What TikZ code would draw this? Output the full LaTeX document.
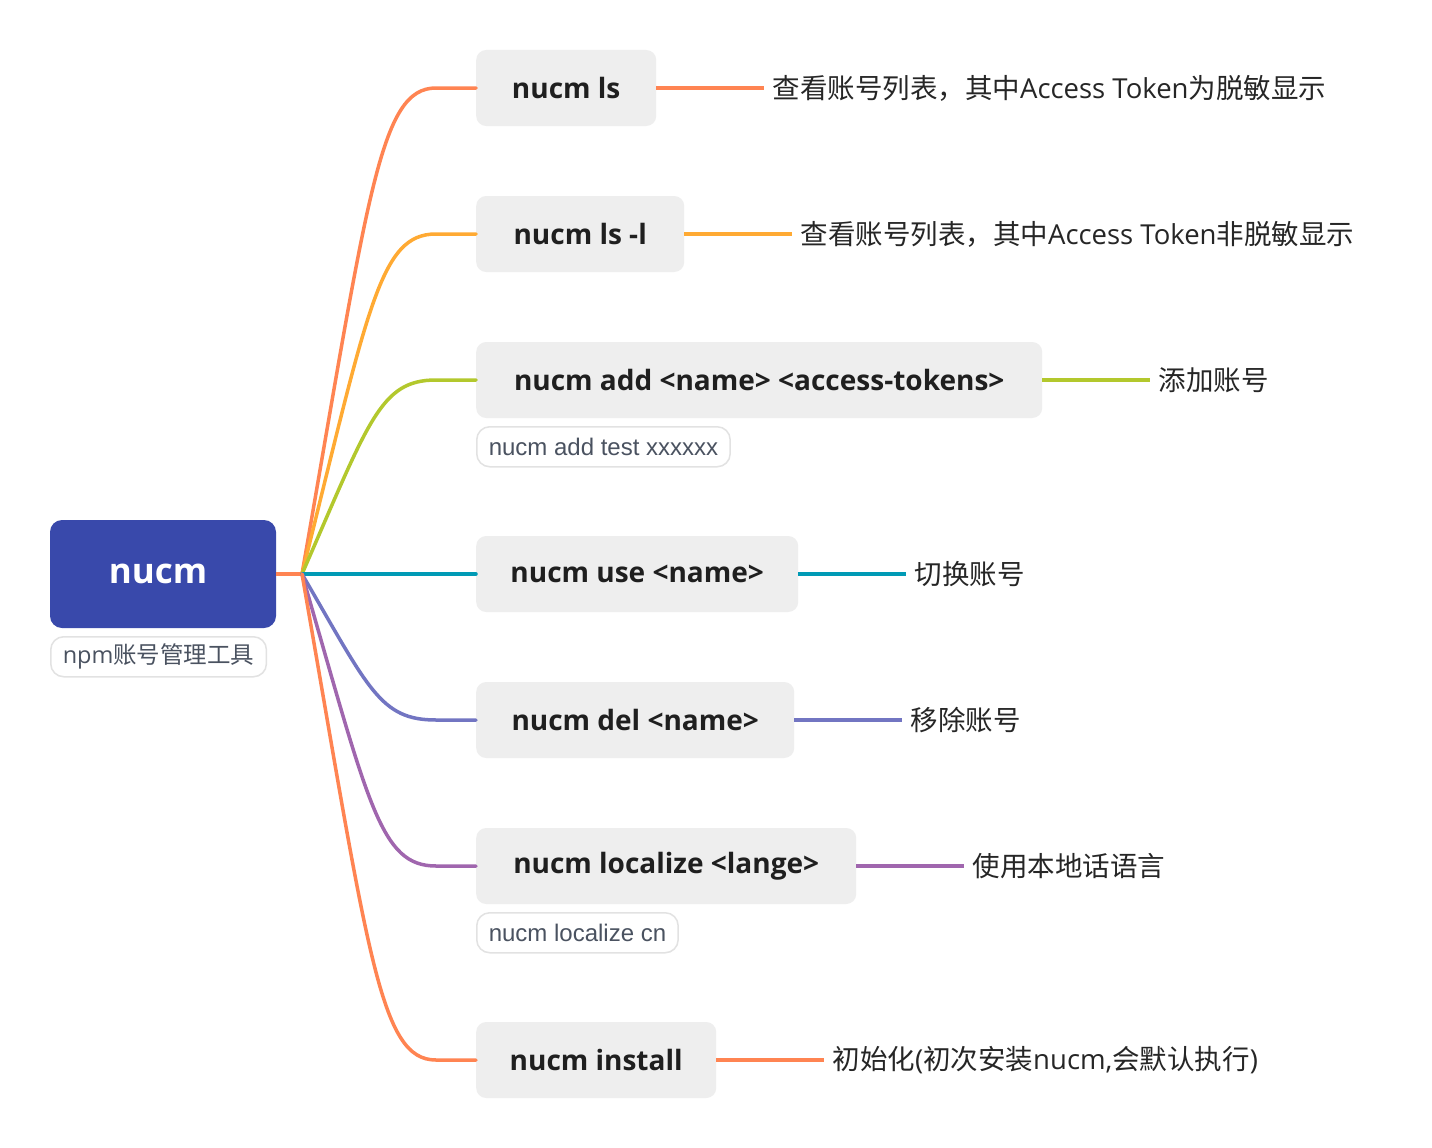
\documentclass[tikz,border=0pt]{standalone}
\usepackage{fontspec}
\setmainfont{Open Sans}
\newfontfamily\cjk{Noto Sans CJK SC}
\newfontfamily\arialf{Liberation Sans}
\definecolor{rootblue}{HTML}{3949AB}
\definecolor{boxgray}{HTML}{EEEEEE}
\definecolor{tagborder}{HTML}{E2E2E2}
\definecolor{taggray}{HTML}{4A5260}
\definecolor{cOrange}{HTML}{FF8452}
\definecolor{cYellow}{HTML}{FFAA33}
\definecolor{cGreen}{HTML}{B3C82D}
\definecolor{cTeal}{HTML}{009AB5}
\definecolor{cBlue}{HTML}{7275C2}
\definecolor{cPurple}{HTML}{A066AE}
\tikzset{
  rootbox/.style={fill=rootblue, rounded corners=12pt, minimum width=226pt, minimum height=108pt, inner sep=0pt, text=white, font=\fontsize{35}{40}\selectfont\bfseries},
  cmdbox/.style={fill=boxgray, rounded corners=10pt, minimum height=76pt, anchor=west, inner sep=0pt, text=black!88, font=\fontsize{28}{32}\selectfont\bfseries},
  desc/.style={anchor=west, inner xsep=8pt, inner ysep=0pt, text=black!85, font=\fontsize{27.5}{32}\selectfont},
  tagbox/.style={draw=tagborder, line width=1.5pt, rounded corners=13pt, minimum height=40pt, anchor=north west, inner xsep=12pt, inner ysep=0pt, text=taggray},
  conn/.style={line width=3.5pt, line cap=round}
}
\begin{document}
\begin{tikzpicture}[x=1pt,y=-1pt]
\useasboundingbox[fill=white] (0,0) rectangle (1432,1148);

% root
\node[rootbox] (root) at (163,574) {nucm\hspace*{10pt}};
\node[tagbox, font=\fontsize{23.5}{26}\selectfont] (rootlab) at (50,636) {npm{\cjk 账号管理工具}};
\coordinate (J) at (302,574);

% command boxes
\node[cmdbox, minimum width=180pt] (b1) at (476,88) {nucm ls};
\node[cmdbox, minimum width=208pt] (b2) at (476,234) {nucm ls -l};
\node[cmdbox, minimum width=566pt] (b3) at (476,380) {nucm add <name> <access-tokens>};
\node[cmdbox, minimum width=322pt] (b4) at (476,574) {nucm use <name>};
\node[cmdbox, minimum width=318pt] (b5) at (476,720) {nucm del <name>};
\node[cmdbox, minimum width=380pt] (b6) at (476,866) {nucm localize <lange>};
\node[cmdbox, minimum width=240pt] (b7) at (476,1060) {nucm install};

% labels under boxes
\node[tagbox, font=\arialf\fontsize{24}{26}\selectfont] (t3) at (476,426) {nucm add test xxxxxx};
\node[tagbox, font=\arialf\fontsize{24}{26}\selectfont] (t6) at (476,912) {nucm localize cn};

% descriptions
\node[desc] (d1) at ([xshift=108pt]b1.east) {{\cjk 查看账号列表，其中}Access Token{\cjk 为脱敏显示}};
\node[desc] (d2) at ([xshift=108pt]b2.east) {{\cjk 查看账号列表，其中}Access Token{\cjk 非脱敏显示}};
\node[desc] (d3) at ([xshift=108pt]b3.east) {\cjk 添加账号};
\node[desc] (d4) at ([xshift=108pt]b4.east) {\cjk 切换账号};
\node[desc] (d5) at ([xshift=108pt]b5.east) {\cjk 移除账号};
\node[desc] (d6) at ([xshift=108pt]b6.east) {\cjk 使用本地话语言};
\node[desc] (d7) at ([xshift=108pt]b7.east) {{\cjk 初始化}({\cjk 初次安装}nucm,{\cjk 会默认执行})};

% connectors
\draw[conn, cOrange, line cap=butt] (root.east) -- (J);
\draw[conn, cOrange] (J) .. controls +(67,-384) and +(-56,0) .. ([xshift=-40pt]b1.west) -- (b1.west);
\draw[conn, cYellow] (J) .. controls +(67,-269) and +(-56,0) .. ([xshift=-40pt]b2.west) -- (b2.west);
\draw[conn, cGreen] (J) .. controls +(67,-153) and +(-56,0) .. ([xshift=-40pt]b3.west) -- (b3.west);
\draw[conn, cTeal] (J) -- (b4.west);
\draw[conn, cBlue] (J) .. controls +(67,115) and +(-56,0) .. ([xshift=-40pt]b5.west) -- (b5.west);
\draw[conn, cPurple] (J) .. controls +(67,231) and +(-56,0) .. ([xshift=-40pt]b6.west) -- (b6.west);
\draw[conn, cOrange] (J) .. controls +(67,384) and +(-56,0) .. ([xshift=-40pt]b7.west) -- (b7.west);

\draw[conn, cOrange, line cap=butt] (b1.east) -- (d1.west);
\draw[conn, cYellow, line cap=butt] (b2.east) -- (d2.west);
\draw[conn, cGreen, line cap=butt] (b3.east) -- (d3.west);
\draw[conn, cTeal, line cap=butt] (b4.east) -- (d4.west);
\draw[conn, cBlue, line cap=butt] (b5.east) -- (d5.west);
\draw[conn, cPurple, line cap=butt] (b6.east) -- (d6.west);
\draw[conn, cOrange, line cap=butt] (b7.east) -- (d7.west);
\end{tikzpicture}
\end{document}
